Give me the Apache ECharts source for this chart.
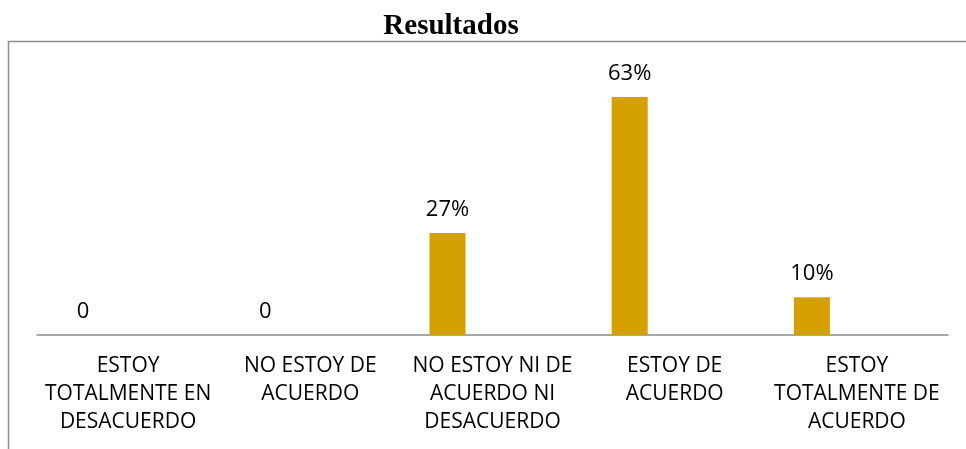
<!DOCTYPE html>
<html>
<head>
<meta charset="utf-8">
<script src="https://cdn.jsdelivr.net/npm/echarts@6/dist/echarts.min.js"></script>
<style>
  html, body { margin: 0; padding: 0; background: #fff; }
  #chart { width: 966px; height: 449px; }
</style>
</head>
<body>
<div id="chart"></div>
<script>
const title = 'Resultados'
const categories = [
  'ESTOY\nTOTALMENTE EN\nDESACUERDO',
  'NO ESTOY DE\nACUERDO',
  'NO ESTOY NI DE\nACUERDO NI\nDESACUERDO',
  'ESTOY DE\nACUERDO',
  'ESTOY\nTOTALMENTE DE\nACUERDO'
]
const values = [0, 0, 27, 63, 10]
// segunda serie vacia, solo ocupa el hueco a la derecha de cada barra
const emptyValues = ['-', '-', '-', '-', '-']

const labelFont = '"Open Sans", sans-serif'

const chart = echarts.init(document.getElementById('chart'))
chart.setOption({
  animation: false,
  backgroundColor: '#fff',
  grid: { left: 37, right: 18, top: 70.5, bottom: 114 },
  graphic: [
    { type: 'line', shape: { x1: 8, y1: 41.5, x2: 966, y2: 41.5 }, style: { stroke: '#8f8f8f', lineWidth: 1.5 } },
    { type: 'line', shape: { x1: 8.5, y1: 41, x2: 8.5, y2: 449 }, style: { stroke: '#8f8f8f', lineWidth: 1.5 } },
    {
      type: 'text', x: 451, y: 27,
      style: {
        text: title, textAlign: 'center', textVerticalAlign: 'middle',
        fontFamily: '"Liberation Serif", serif', fontWeight: 'bold', fontSize: 29, fill: '#000'
      }
    }
  ],
  xAxis: {
    type: 'category',
    data: categories,
    axisLine: { lineStyle: { color: '#8c8c8c', width: 1.5 } },
    axisTick: { show: false },
    axisLabel: {
      interval: 0, margin: 17, color: '#000',
      fontFamily: labelFont, fontSize: 21, lineHeight: 28
    }
  },
  yAxis: {
    type: 'value', min: 0, max: 70,
    show: false, splitLine: { show: false }
  },
  series: [
    {
      type: 'bar',
      data: values,
      barWidth: 36,
      barGap: '150%',
      itemStyle: { color: '#d4a000' },
      label: {
        show: true, position: 'top', distance: 12,
        color: '#000', fontFamily: labelFont, fontSize: 22,
        formatter: p => p.value === 0 ? '0' : p.value + '%'
      }
    },
    {
      type: 'bar',
      data: emptyValues,
      barWidth: 36,
      itemStyle: { color: 'transparent' }
    }
  ]
})
</script>
</body>
</html>
